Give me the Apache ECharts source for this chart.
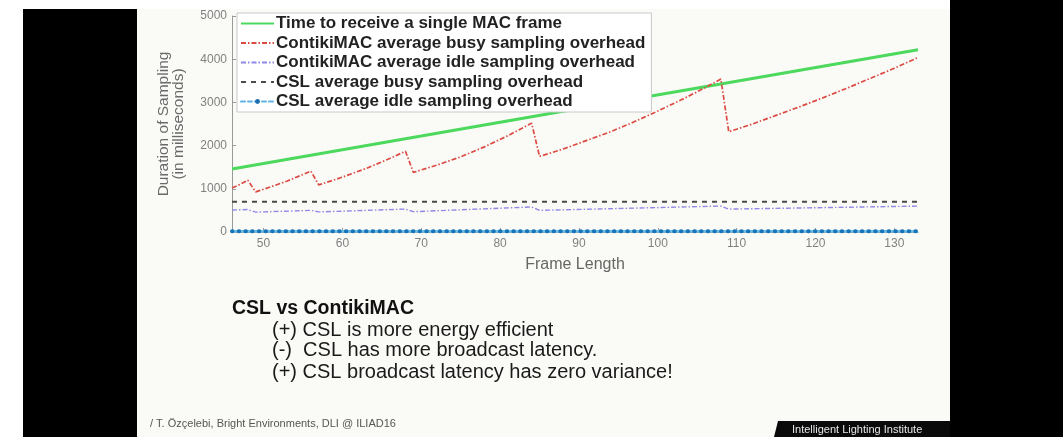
<!DOCTYPE html>
<html>
<head>
<meta charset="utf-8">
<script src="https://cdn.jsdelivr.net/npm/echarts@6/dist/echarts.min.js"></script>
<style>
	html, body { margin: 0; padding: 0; background: #ffffff; }
	#chart { width: 1063px; height: 437px; }
</style>
</head>
<body>
<div id="chart"></div>
<script>
// ---- data ----
const seriesNames = [
	'Time to receive a single MAC frame',
	'ContikiMAC average busy sampling overhead',
	'ContikiMAC average idle sampling overhead',
	'CSL average busy sampling overhead',
	'CSL average idle sampling overhead',
];
const xTicks = [50, 60, 70, 80, 90, 100, 110, 120, 130];

const receiveX = [46, 70, 90, 110, 133];
const receiveY = [1460, 2220, 2860, 3490, 4220];

const busyX = [46, 47, 48, 49, 51, 53, 55, 56, 57, 60, 63, 66, 68, 69, 72, 75, 78, 81, 84, 85, 88, 91, 94, 97, 100, 103, 106, 108, 109, 112, 115, 118, 121, 124, 127, 130, 133];
const busyY = [1020, 1100, 1200, 930, 1050, 1180, 1330, 1410, 1090, 1270, 1470, 1700, 1870, 1380, 1550, 1740, 1970, 2230, 2520, 1750, 1920, 2120, 2320, 2550, 2800, 3060, 3340, 3540, 2320, 2500, 2700, 2900, 3110, 3330, 3560, 3790, 4040];

const idleX = [46, 48, 49, 56, 57, 68, 69, 84, 85, 108, 109, 133];
const idleY = [510, 520, 460, 500, 465, 530, 470, 580, 500, 600, 530, 600];

const cslBusyX = [46, 133];
const cslBusyY = [700, 700];
const cslIdleX = [46, 133];
const cslIdleY = [15, 15];

const pairs = (xs, ys) => xs.map((x, i) => [x, ys[i]]);

const chart = echarts.init(document.getElementById('chart'), null, { renderer: 'canvas' });

const font = 'Liberation Sans, Arial, sans-serif';

const option = {
	backgroundColor: '#ffffff',
	animation: false,
	textStyle: { fontFamily: font },
	grid: { left: 232, right: 145, top: 16, bottom: 205, containLabel: false },
	legend: {
		data: [
			{ name: seriesNames[0] },
			{ name: seriesNames[1] },
			{ name: seriesNames[2] },
			{ name: seriesNames[3] },
			{ name: seriesNames[4], itemStyle: { opacity: 1, color: '#1a6fb0' }, lineStyle: { color: '#5fb4e6', type: [4, 3], width: 2 } },
		],
		orient: 'vertical',
		left: 237,
		top: 13,
		itemWidth: 33,
		itemHeight: 6,
		itemGap: 2.5,
		padding: [2, 6, 2, 3],
		backgroundColor: '#ffffff',
		borderColor: '#c8c8c8',
		borderWidth: 1,
		itemStyle: { opacity: 0 },
		textStyle: { fontSize: 17, fontWeight: 'bold', color: '#222222', padding: [0, 0, 0, -3] },
	},
	xAxis: {
		type: 'value',
		min: 46,
		max: 133,
		name: 'Frame Length',
		nameLocation: 'middle',
		nameGap: 25,
		nameTextStyle: { fontSize: 16, color: '#666666' },
		axisLine: { show: true, lineStyle: { color: '#9a9a9a' } },
		axisTick: { show: true, inside: true, length: 4, customValues: xTicks, lineStyle: { color: '#9a9a9a' } },
		axisLabel: { customValues: xTicks, color: '#808080', fontSize: 12, margin: 6 },
		splitLine: { show: false },
	},
	yAxis: {
		type: 'value',
		min: 0,
		max: 5000,
		interval: 1000,
		name: 'Duration of Sampling\n(in milliseconds)',
		nameLocation: 'middle',
		nameGap: 46,
		nameTextStyle: { fontSize: 15.5, color: '#6a6a6a', lineHeight: 15 },
		axisLine: { show: true, lineStyle: { color: '#9a9a9a' } },
		axisTick: { show: true, inside: true, length: 4, lineStyle: { color: '#9a9a9a' } },
		axisLabel: { color: '#808080', fontSize: 12, margin: 5, formatter: (v) => String(v) },
		splitLine: { show: false },
	},
	series: [
		{
			name: seriesNames[0],
			type: 'line',
			symbol: 'none',
			data: pairs(receiveX, receiveY),
			lineStyle: { color: '#4cd95e', width: 3 },
			itemStyle: { color: '#4cd95e' },
		},
		{
			name: seriesNames[1],
			type: 'line',
			symbol: 'none',
			data: pairs(busyX, busyY),
			lineStyle: { color: '#dc4a44', width: 1.7, type: [5, 2, 1.5, 2] },
			itemStyle: { color: '#dc4a44' },
		},
		{
			name: seriesNames[2],
			type: 'line',
			symbol: 'none',
			data: pairs(idleX, idleY),
			lineStyle: { color: '#9088e6', width: 1.4, type: [5, 2, 1.5, 2] },
			itemStyle: { color: '#9088e6' },
		},
		{
			name: seriesNames[3],
			type: 'line',
			symbol: 'none',
			data: pairs(cslBusyX, cslBusyY),
			lineStyle: { color: '#4a4a4a', width: 2, type: [5, 5] },
			itemStyle: { color: '#4a4a4a' },
		},
		{
			// light-blue underlay of the CSL idle line (not in the legend)
			name: 'cslIdleUnderlay',
			type: 'line',
			symbol: 'none',
			silent: true,
			data: pairs(cslIdleX, cslIdleY),
			lineStyle: { color: '#6cc0ec', width: 2.5 },
		},
		{
			name: seriesNames[4],
			type: 'line',
			symbol: 'circle',
			symbolSize: 4,
			showSymbol: false,
			data: pairs(cslIdleX, cslIdleY),
			lineStyle: { color: '#1a74b8', width: 4, type: [0.5, 6.2], cap: 'round' },
			itemStyle: { color: '#1a74b8' },
		},
	],
	graphic: [
		// slide body and the dark frame around it
		{ type: 'rect', z: -10, shape: { x: 137, y: 9, width: 813, height: 428 }, style: { fill: '#fafbf6' } },
		{ type: 'rect', shape: { x: 23, y: 9, width: 114, height: 428 }, style: { fill: '#000000' } },
		{ type: 'rect', shape: { x: 950, y: 0, width: 113, height: 437 }, style: { fill: '#000000' } },
		{ type: 'polygon', shape: { points: [[778, 421], [950, 421], [950, 437], [774, 437]] }, style: { fill: '#0a0a0a' } },
		{ type: 'text', x: 792, y: 424, style: { text: 'Intelligent Lighting Institute', fill: '#e8e8e8', fontSize: 11, fontFamily: font } },
		// slide text
		{ type: 'text', x: 232, y: 299, style: { text: 'CSL vs ContikiMAC', fill: '#111111', fontSize: 19.5, fontWeight: 'bold', fontFamily: font } },
		{ type: 'text', x: 272, y: 320, style: { text: '(+) CSL is more energy efficient', fill: '#1a1a1a', fontSize: 20, fontFamily: font } },
		{ type: 'text', x: 272, y: 340, style: { text: '(-)  CSL has more broadcast latency.', fill: '#1a1a1a', fontSize: 20, fontFamily: font } },
		{ type: 'text', x: 272, y: 362, style: { text: '(+) CSL broadcast latency has zero variance!', fill: '#1a1a1a', fontSize: 20, fontFamily: font } },
		{ type: 'text', x: 150, y: 418, style: { text: '/ T. Özçelebi, Bright Environments, DLI @ ILIAD16', fill: '#555555', fontSize: 11, fontFamily: font } },
	],
};

chart.setOption(option);
window.addEventListener('resize', () => chart.resize());
</script>
</body>
</html>
